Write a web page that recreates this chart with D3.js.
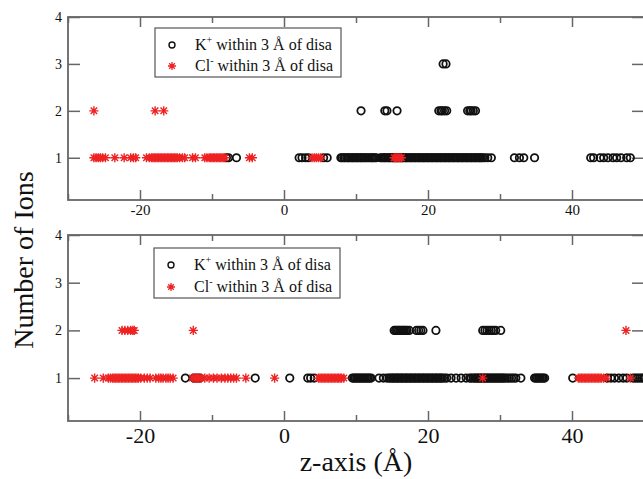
<!DOCTYPE html>
<html>
<head>
<meta charset="utf-8">
<script src="https://cdn.jsdelivr.net/npm/d3@7"></script>
<style>
  html, body { margin: 0; padding: 0; background: #fff; }
  svg { display: block; }
  text { font-family: "Liberation Serif", "DejaVu Serif", serif; fill: #111; }
</style>
</head>
<body>
<svg id="chart" width="643" height="479"></svg>
<script>
// z positions (Å) of ions found within 3 Å of the disaccharide, grouped by ion count
const topK1 = [-8.0, -7.7, -6.6, 2.1, 2.5, 3.0, 3.4, 5.5, 6.0,
  7.9, 8.05, 8.3, 8.45, 8.7, 8.9, 9.05, 9.3, 9.5, 9.65, 9.9, 10.1, 10.25, 10.5,
  10.7, 10.85, 11.1, 11.3, 11.5, 11.75, 12.0, 12.2, 12.35, 12.6, 12.8,
  13.4, 13.6, 13.85, 14.0, 14.2, 14.45, 14.6, 14.8, 15.05, 15.2, 15.4, 15.65, 15.8,
  16.0, 16.25, 16.4, 16.6, 16.85, 17.0, 17.2, 17.45, 17.6, 17.8, 18.05, 18.2, 18.4,
  18.65, 18.8, 19.0, 19.25, 19.4, 19.6, 19.85, 20.0, 20.2, 20.45, 20.6, 20.8,
  21.05, 21.2, 21.4, 21.65, 21.8, 22.0, 22.25, 22.4, 22.6, 22.85, 23.0, 23.2,
  23.45, 23.6, 23.8, 24.05, 24.2, 24.4, 24.65, 24.8, 25.0, 25.25, 25.4, 25.6,
  25.85, 26.0, 26.2, 26.45, 26.6, 26.8, 27.05, 27.2, 27.4, 27.6, 27.9, 28.3, 28.8,
  32.0, 32.7, 33.3, 34.8,
  42.6, 43.0, 43.9, 44.4, 45.0, 45.7, 46.2, 46.8, 47.6, 48.1];
const topK2 = [10.7, 14.0, 14.3, 15.7, 21.5, 21.8, 22.0, 22.3, 22.6,
  25.5, 25.8, 26.0, 26.3, 26.6];
const topK3 = [22.1, 22.5];
const topCl1 = [-26.4, -26.1, -25.8, -25.5, -25.2, -24.8, -23.5, -22.2, -21.3, -20.9, -20.6,
  -19.1, -18.7, -18.4, -18.2, -18.0, -17.8, -17.6, -17.4, -17.2, -17.0, -16.8,
  -16.6, -16.4, -16.2, -16.0, -15.8, -15.6, -15.4, -15.2, -15.0, -14.8, -14.5,
  -14.1, -13.8, -12.7, -12.3, -11.0, -10.7, -10.4, -10.2, -10.0, -9.8, -9.6,
  -9.4, -9.2, -9.0, -8.8, -8.6, -8.4, -8.2, -4.8, -4.4,
  3.9, 4.2, 4.5, 4.8, 5.1, 15.3, 15.5, 15.7, 15.9, 16.1, 16.3];
const topCl2 = [-26.4, -17.9, -16.7];

const botK1 = [-13.7, -12.5, -12.1, -11.7, -4.0, 0.8, 3.3, 3.7, 4.2,
  9.5, 9.7, 9.9, 10.1, 10.3, 10.5, 10.7, 10.9, 11.1, 11.3, 11.5, 11.7, 11.9, 12.1,
  13.2, 13.8, 14.3, 14.6, 14.8, 15.05, 15.2, 15.4, 15.65, 15.8, 16.0, 16.25, 16.4,
  16.6, 16.85, 17.0, 17.2, 17.45, 17.6, 17.8, 18.05, 18.2, 18.4, 18.65, 18.8,
  19.0, 19.25, 19.4, 19.6, 19.85, 20.0, 20.2, 20.45, 20.6, 20.8, 21.05, 21.2,
  21.4, 21.65, 21.8, 22.0, 22.3,
  22.6, 23.2, 23.9, 24.6, 25.3,
  25.8, 26.0, 26.3, 26.5, 26.7, 26.9, 27.1, 27.3, 27.5, 27.7, 27.9, 28.1, 28.3,
  28.5, 28.7, 28.9, 29.1, 29.3, 29.5, 29.7, 29.9, 30.1, 30.3, 30.5, 30.7, 31.0,
  31.3, 31.6, 31.9, 32.2, 32.9,
  34.8, 35.0, 35.2, 35.4, 35.6, 35.8, 36.0, 36.2,
  40.1, 44.9, 45.4, 45.9, 46.5, 47.1, 47.6, 48.5, 48.8, 49.1, 49.4, 49.7, 50.0];
const botK2 = [15.3, 15.5, 15.7, 15.9, 16.1, 16.3, 16.5, 16.7, 16.9, 17.1, 17.4,
  18.4, 18.7, 19.0, 19.3, 21.1, 27.6, 27.9, 28.2, 28.5, 28.8, 29.1, 29.4, 30.1];
const botCl1 = [-26.3, -25.1, -24.4, -24.1, -23.8, -23.6, -23.4, -23.2, -23.0, -22.8,
  -22.6, -22.4, -22.2, -22.0, -21.8, -21.6, -21.4, -21.2, -21.0, -20.8, -20.6,
  -20.4, -20.2, -19.9, -19.4, -19.0, -18.6,
  -17.8, -17.4, -17.1, -16.8, -16.4, -16.1, -15.8, -15.4,
  -12.7, -12.4, -12.2, -12.0, -11.8, -11.5, -11.0, -10.4, -9.8, -9.3, -8.7, -8.2,
  -7.8, -7.4, -7.0, -6.6, -5.3, -1.3,
  4.8, 5.0, 5.2, 5.4, 5.6, 5.8, 6.0, 6.2, 6.4, 6.6, 6.8, 7.0, 7.2, 7.4, 7.6, 7.8,
  8.0, 8.3, 27.6,
  40.9, 41.1, 41.3, 41.5, 41.7, 41.9, 42.1, 42.3, 42.5, 42.7, 42.9, 43.1, 43.3,
  43.5, 43.7, 43.9, 44.1, 44.4, 44.8, 48.1];
const botCl2 = [-22.5, -22.1, -21.7, -21.3, -21.0, -20.8, -12.6, 47.5];

const xMajor = [-20, 0, 20, 40];
const xMinor = [-30, -10, 10, 30];
const yTicks = [1, 2, 3, 4];
const legendK = ["K", "+", " within 3 Å of disa"];
const legendCl = ["Cl", "-", " within 3 Å of disa"];

const svg = d3.select("#chart");
const frameColor = "#666";
const red = "#ee2222";

const x = d3.scaleLinear().domain([-30, 50]).range([68, 644]);

const starPath = (r) => {
  const a = r * 0.7071;
  return `M${-r},0L${r},0M0,${-r}L0,${r}M${-a},${-a}L${a},${a}M${-a},${a}L${a},${-a}`;
};

// plain hyphen for negative tick labels
const fmt = d => String(d);

function panel(cfg) {
  const y = d3.scaleLinear().domain([0.1, 4]).range([cfg.bottom, cfg.top]);
  const g = svg.append("g");
  const clipId = "clip" + cfg.id;
  svg.append("clipPath").attr("id", clipId).append("rect")
    .attr("x", x.range()[0]).attr("y", cfg.top)
    .attr("width", x.range()[1] - x.range()[0]).attr("height", cfg.bottom - cfg.top);

  // x ticks (inward), bottom with labels and top mirrored
  const axB = g.append("g").attr("transform", `translate(0,${cfg.bottom})`)
    .call(d3.axisBottom(x).tickValues(xMajor).tickSize(-10).tickPadding(cfg.xPad)
      .tickFormat(fmt));
  axB.selectAll("text").attr("font-size", cfg.xFont).style("font-family", "Liberation Serif");
  g.append("g").attr("transform", `translate(0,${cfg.bottom})`)
    .call(d3.axisBottom(x).tickValues(xMinor).tickSize(-6).tickFormat(""));
  g.append("g").attr("transform", `translate(0,${cfg.top})`)
    .call(d3.axisTop(x).tickValues(xMajor).tickSize(-10).tickFormat(""));
  g.append("g").attr("transform", `translate(0,${cfg.top})`)
    .call(d3.axisTop(x).tickValues(xMinor).tickSize(-6).tickFormat(""));

  // y ticks (inward), left with labels and right mirrored
  const axL = g.append("g").attr("transform", `translate(${x.range()[0]},0)`)
    .call(d3.axisLeft(y).tickValues(yTicks).tickSize(-12).tickPadding(6)
      .tickFormat(fmt));
  axL.selectAll("text").attr("font-size", 14).style("font-family", "Liberation Serif");
  g.append("g").attr("transform", `translate(${x.range()[1]},0)`)
    .call(d3.axisRight(y).tickValues(yTicks).tickSize(-12).tickFormat(""));

  g.selectAll(".domain").remove();
  g.selectAll(".tick line").attr("stroke", frameColor).attr("stroke-width", 1.5);
  g.selectAll(".tick text").attr("fill", "#111");

  // frame
  g.append("rect").attr("x", x.range()[0]).attr("y", cfg.top)
    .attr("width", x.range()[1] - x.range()[0]).attr("height", cfg.bottom - cfg.top)
    .attr("fill", "none").attr("stroke", frameColor).attr("stroke-width", 1.8);

  const marks = g.append("g").attr("clip-path", `url(#${clipId})`);
  const kPts = [];
  cfg.k.forEach(([count, arr]) => arr.forEach(v => kPts.push({ z: v, n: count })));
  const clPts = [];
  cfg.cl.forEach(([count, arr]) => arr.forEach(v => clPts.push({ z: v, n: count })));

  marks.selectAll("circle.k").data(kPts).join("circle").attr("class", "k")
    .attr("cx", d => x(d.z)).attr("cy", d => y(d.n)).attr("r", 3.7)
    .attr("fill", "none").attr("stroke", "#111").attr("stroke-width", 1.8);
  marks.selectAll("path.cl").data(clPts).join("path").attr("class", "cl")
    .attr("transform", d => `translate(${x(d.z)},${y(d.n)})`)
    .attr("d", starPath(4.6)).attr("fill", "none")
    .attr("stroke", red).attr("stroke-width", 1.4);

  // legend
  const L = cfg.legend;
  const lg = g.append("g");
  lg.append("rect").attr("x", L.x).attr("y", L.y).attr("width", L.w).attr("height", L.h)
    .attr("fill", "#fff").attr("stroke", "#555").attr("stroke-width", 1.2);
  lg.append("circle").attr("cx", L.x + 17).attr("cy", L.r1 - 5).attr("r", 3)
    .attr("fill", "none").attr("stroke", "#111").attr("stroke-width", 1.4);
  lg.append("path").attr("transform", `translate(${L.x + 17},${L.r2 - 5})`)
    .attr("d", starPath(4)).attr("fill", "none").attr("stroke", red).attr("stroke-width", 1.3);
  [[legendK, L.r1], [legendCl, L.r2]].forEach(([parts, base]) => {
    const t = lg.append("text").attr("x", L.x + 40).attr("y", base).attr("font-size", 16);
    t.append("tspan").text(parts[0]);
    t.append("tspan").attr("dy", -7).attr("font-size", 10).text(parts[1]);
    t.append("tspan").attr("dy", 7).text(parts[2]);
  });
}

panel({
  id: "a", top: 17, bottom: 200, xFont: 15, xPad: 4,
  k: [[1, topK1], [2, topK2], [3, topK3]],
  cl: [[1, topCl1], [2, topCl2]],
  legend: { x: 155, y: 28, w: 186, h: 49, r1: 50, r2: 71 }
});
panel({
  id: "b", top: 235, bottom: 421, xFont: 22, xPad: 6,
  k: [[1, botK1], [2, botK2]],
  cl: [[1, botCl1], [2, botCl2]],
  legend: { x: 154, y: 248, w: 186, h: 50, r1: 270, r2: 292 }
});

// axis titles
svg.append("text").attr("transform", "translate(33,260) rotate(-90)")
  .attr("text-anchor", "middle").attr("font-size", 28).text("Number of Ions");
svg.append("text").attr("x", 356).attr("y", 471)
  .attr("text-anchor", "middle").attr("font-size", 28).text("z-axis (Å)");
</script>
</body>
</html>
